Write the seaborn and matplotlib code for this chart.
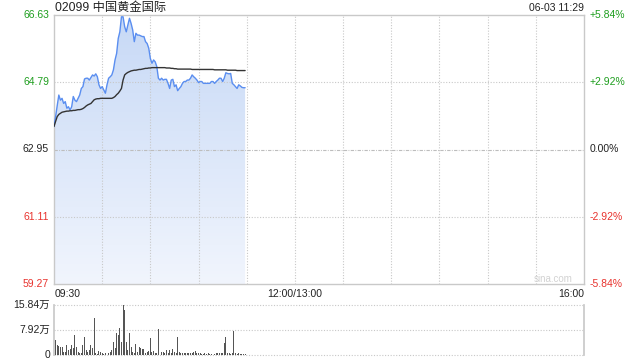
import numpy as np
import pandas as pd
import matplotlib
matplotlib.use("Agg")
import matplotlib.pyplot as plt
import seaborn as sns

# ---------------- data ----------------
title_text = "02099 中国黄金国际"
stamp_text = "06-03 11:29"
prev_close = 62.95
price_ticks = [66.63, 64.79, 62.95, 61.11, 59.27]
pct_ticks = ["+5.84%", "+2.92%", "0.00%", "-2.92%", "-5.84%"]
time_labels = ["09:30", "12:00/13:00", "16:00"]
vol_tick_labels = ["15.84万", "7.92万", "0"]
vol_ticks = [15.84, 7.92, 0]

price = [
    63.58, 63.85, 64.15, 64.44, 64.30, 64.35, 64.21, 64.26, 64.08, 64.12,
    64.03, 64.12, 64.40, 64.30, 64.26, 64.35, 64.44, 64.62, 64.67, 64.88,
    64.90, 64.90, 64.85, 64.92, 64.99, 64.96, 65.02, 64.94, 64.72, 64.62,
    64.67, 64.58, 64.49, 64.72, 64.90, 64.94, 64.99, 65.13, 65.40, 65.58,
    65.99, 66.17, 66.58, 66.58, 66.31, 66.17, 66.36, 66.54, 66.40, 66.22,
    65.90, 66.13, 66.08, 66.08, 66.06, 66.04, 66.04, 65.90, 65.85, 65.72,
    65.44, 65.31, 65.40, 65.35, 65.22, 64.90, 64.85, 64.90, 64.85, 64.87,
    64.87, 64.76, 64.62, 64.85, 64.87, 64.67, 64.72, 64.56, 64.62, 64.67,
    64.76, 64.81, 64.81, 64.85, 64.85, 64.90, 64.99, 64.94, 64.90, 64.85,
    64.78, 64.81, 64.81, 64.76, 64.76, 64.76, 64.76, 64.76, 64.81, 64.81,
    64.76, 64.81, 64.85, 64.90, 64.90, 64.81, 64.90, 65.05, 65.03, 65.02,
    65.03, 64.76, 64.72, 64.67, 64.62, 64.72, 64.69, 64.65, 64.64, 64.64,
]

avg_price = [
    63.58, 63.72, 63.85, 63.91, 63.94, 63.97, 63.98, 63.99, 64.00, 64.00,
    64.01, 64.01, 64.02, 64.02, 64.03, 64.04, 64.04, 64.05, 64.07, 64.10,
    64.14, 64.17, 64.19, 64.21, 64.26, 64.31, 64.33, 64.34, 64.34, 64.35,
    64.35, 64.35, 64.35, 64.35, 64.35, 64.35, 64.35, 64.37, 64.40, 64.45,
    64.49, 64.55, 64.62, 64.85, 64.99, 65.03, 65.06, 65.08, 65.10, 65.11,
    65.12, 65.12, 65.13, 65.14, 65.14, 65.15, 65.16, 65.17, 65.17, 65.18,
    65.18, 65.19, 65.19, 65.19, 65.19, 65.19, 65.19, 65.19, 65.19, 65.19,
    65.18, 65.18, 65.18, 65.17, 65.17, 65.16, 65.16, 65.15, 65.15, 65.15,
    65.15, 65.15, 65.15, 65.15, 65.15, 65.15, 65.14, 65.14, 65.14, 65.14,
    65.14, 65.14, 65.14, 65.14, 65.14, 65.14, 65.14, 65.14, 65.14, 65.14,
    65.13, 65.13, 65.13, 65.13, 65.13, 65.13, 65.13, 65.13, 65.12, 65.12,
    65.12, 65.12, 65.12, 65.12, 65.11, 65.11, 65.11, 65.11, 65.11, 65.11,
]

volume_wan = [
    6.3, 4.8, 3.2, 2.9, 2.6, 2.4, 1.1, 1.1, 3.2, 1.6,
    1.8, 3.2, 2.1, 6.3, 2.6, 1.1, 0.7, 0.5, 3.2, 5.8,
    1.6, 1.1, 1.6, 3.2, 2.1, 11.6, 0.5, 0.3, 1.4, 1.1,
    0.5, 0.3, 0.5, 1.1, 0.7, 1.1, 1.6, 4.2, 2.1, 6.9,
    6.3, 8.4, 4.2, 15.84, 14.3, 4.2, 1.6, 6.9, 2.6, 1.1,
    0.5, 3.5, 1.1, 2.6, 2.1, 1.8, 1.8, 0.5, 1.1, 1.4,
    5.3, 1.1, 1.4, 0.7, 0.5, 8.1, 4.8, 1.1, 1.1, 0.5,
    1.6, 0.7, 1.6, 0.7, 1.8, 1.1, 0.5, 5.6, 1.1, 0.5,
    0.7, 0.7, 0.5, 0.5, 0.7, 0.5, 0.7, 1.1, 1.4, 0.7,
    0.5, 0.5, 0.3, 0.3, 0.5, 0.3, 0.5, 0.3, 0.3, 0.5,
    0.3, 0.5, 0.7, 0.5, 0.5, 0.7, 3.7, 5.6, 0.5, 0.5,
    0.3, 0.5, 7.6, 0.5, 0.3, 0.5, 0.3, 0.3, 0.3, 0.2,
]

session_minutes = 330  # 09:30-12:00 + 13:00-16:00
minute = np.arange(len(price))
df = pd.DataFrame({"minute": minute, "price": price, "avg": avg_price, "vol": volume_wan})

# ---------------- style ----------------
sns.set_theme(style="white")
plt.rcParams["font.family"] = ["Liberation Sans", "Noto Sans CJK SC", "DejaVu Sans"]

GREEN = "#1e9e1e"
RED = "#e8322d"
GRID = "#c8c8c8"
SPINE = "#c9c9c9"

fig = plt.figure(figsize=(6.4, 3.6), dpi=100)
ax = fig.add_axes([54 / 640, 1 - 284 / 360, 530 / 640, 269 / 360])
axv = fig.add_axes([54 / 640, 1 - 355 / 360, 530 / 640, 50 / 360])

ymin, ymax = price_ticks[-1], price_ticks[0]
ax.set_xlim(0, session_minutes)
ax.set_ylim(ymin, ymax)

# gradient fill below the price line
fill = ax.fill_between(df["minute"], df["price"], ymin, color="none", lw=0)
grad = np.linspace(0, 1, 256).reshape(-1, 1)
cmap = matplotlib.colors.LinearSegmentedColormap.from_list(
    "g", ["#f1f5fd", "#c7d9f6"])
img = ax.imshow(grad, extent=[0, len(price) - 1, ymin, max(price)], origin="lower",
                aspect="auto", cmap=cmap, zorder=1)
path = fill.get_paths()[0]
img.set_clip_path(path, transform=ax.transData)

# grid (drawn above the fill)
for i in range(1, 11):
    ax.axvline(i * 30, color=GRID, lw=0.8, ls=(0, (1, 1.5)), zorder=2)
for p in price_ticks[1:-1]:
    if p == prev_close:
        ax.axhline(p, color="#bdbdbd", lw=0.8, ls=(0, (3, 1.2, 0.8, 1.2)), zorder=2)
    else:
        ax.axhline(p, color=GRID, lw=0.8, ls=(0, (1, 1.5)), zorder=2)

sns.lineplot(data=df, x="minute", y="price", ax=ax, color="#5a8ef0", lw=1.0, zorder=3)
sns.lineplot(data=df, x="minute", y="avg", ax=ax, color="#333333", lw=1.0, zorder=4)

ax.set_xlabel("")
ax.set_ylabel("")
ax.set_xticks([])
ax.set_yticks([])
for s in ax.spines.values():
    s.set_color(SPINE)
    s.set_linewidth(1.0)

# left price labels and right percent labels
lab_colors = [GREEN, GREEN, "#222222", RED, RED]
for p, pct, c in zip(price_ticks, pct_ticks, lab_colors):
    ax.text(-5 / 530 * session_minutes, p, f"{p:.2f}", ha="right", va="center",
            fontsize=7.5, color=c, clip_on=False)
    ax.text(session_minutes + 6 / 530 * session_minutes, p, pct, ha="left", va="center",
            fontsize=7.5, color=c, clip_on=False)

# title / timestamp
fig.text(55 / 640, 1 - 8 / 360, title_text, ha="left", va="center", fontsize=8.8, color="#222222")
fig.text(584 / 640, 1 - 8 / 360, stamp_text, ha="right", va="center", fontsize=7.5, color="#222222")

# time labels
fig.text(55 / 640, 1 - 294 / 360, time_labels[0], ha="left", va="center", fontsize=7.5, color="#222222")
fig.text(295 / 640, 1 - 294 / 360, time_labels[1], ha="center", va="center", fontsize=7.5, color="#222222")
fig.text(584 / 640, 1 - 294 / 360, time_labels[2], ha="right", va="center", fontsize=7.5, color="#222222")

# watermark
ax.text((553 - 54) / 530 * session_minutes, ymin + 0.15, "sina.com",
        ha="center", va="center", fontsize=7, color="#d2d2d2")

# ---------------- volume ----------------
sns.barplot(data=df, x="minute", y="vol", ax=axv, native_scale=True, color="#555555",
            width=0.6, saturation=1, linewidth=0, zorder=3)
axv.set_ylim(0, vol_ticks[0])
axv.set_xlim(0, session_minutes)
for v in vol_ticks:
    axv.axhline(v, color=GRID, lw=0.8, ls=(0, (1, 1.5)), zorder=0.5, clip_on=False)
axv.set_xlabel("")
axv.set_ylabel("")
axv.set_xticks([])
axv.set_yticks([])
axv.spines["top"].set_visible(False)
axv.spines["bottom"].set_visible(False)
axv.spines["left"].set_color(SPINE)
axv.spines["right"].set_color(SPINE)
for v, lab in zip(vol_ticks, vol_tick_labels):
    axv.text(-4 / 530 * session_minutes, v, lab, ha="right", va="center",
             fontsize=7.5, color="#222222", clip_on=False)

fig.savefig("out.png", dpi=100)
